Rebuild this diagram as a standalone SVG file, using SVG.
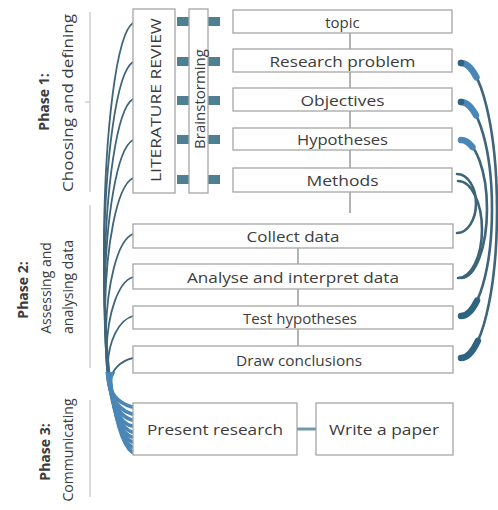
<svg xmlns="http://www.w3.org/2000/svg" width="498" height="510" viewBox="0 0 498 510">
<style>
.box{fill:#fff;stroke:#a6a6a6;stroke-width:1.3}
.t{font-family:"Open Sans","Liberation Sans",sans-serif;font-size:15px;fill:#3c3c3c;text-anchor:middle;dominant-baseline:central}
.ph{font-family:"Open Sans","Liberation Sans",sans-serif;font-size:14px;fill:#3c3c3c;text-anchor:middle;dominant-baseline:central}
.phb{font-weight:bold}
.br{stroke:#c4c4c4;stroke-width:1.2;fill:none}
.lnk{stroke:#8a8a8a;stroke-width:1.3;fill:none}
.sq{fill:#4f7f92}
.lc{fill:none;stroke:#3e6579;stroke-width:1.8;stroke-linecap:round}
.lcb{fill:none;stroke:#4a87b6;stroke-width:3.6;stroke-linecap:round}
.rc{fill:none;stroke:#3e6579;stroke-width:2.6;stroke-linecap:round}
.rcb{fill:none;stroke:#4a87b6;stroke-width:6.5;stroke-linecap:round}
.rcd{fill:none;stroke:#2f6480;stroke-width:6.5;stroke-linecap:round}
</style>
<defs>
<clipPath id="bot"><rect x="80" y="372" width="60" height="100"/></clipPath>
</defs>

<g id="phase-labels">
<line class="br" x1="90" y1="12" x2="90" y2="192"/>
<line class="br" x1="85" y1="102" x2="90" y2="102"/>
<line class="br" x1="90" y1="205" x2="90" y2="368"/>
<line class="br" x1="90" y1="400" x2="90" y2="497"/>
<text class="ph phb" transform="translate(43,102) rotate(-90)">Phase 1:</text>
<text class="ph" transform="translate(67,103) rotate(-90)" font-size="15.5" textLength="178" lengthAdjust="spacingAndGlyphs">Choosing and defining</text>
<text class="ph phb" transform="translate(22,290) rotate(-90)">Phase 2:</text>
<text class="ph" transform="translate(45,288) rotate(-90)" font-size="14.5">Assessing and</text>
<text class="ph" transform="translate(67,287) rotate(-90)" font-size="14.5">analysing data</text>
<text class="ph phb" transform="translate(44,452) rotate(-90)">Phase 3:</text>
<text class="ph" transform="translate(67,450) rotate(-90)" font-size="14.5">Communicating</text>
</g>

<g id="connectors">
<line class="lnk" x1="350" y1="33" x2="350" y2="49"/>
<line class="lnk" x1="350" y1="72" x2="350" y2="88"/>
<line class="lnk" x1="350" y1="111" x2="350" y2="128"/>
<line class="lnk" x1="350" y1="150" x2="350" y2="168"/>
<line class="lnk" x1="350" y1="192" x2="350" y2="213"/>
<line class="lnk" x1="298" y1="248" x2="298" y2="264"/>
<line class="lnk" x1="298" y1="289" x2="298" y2="306"/>
<line class="lnk" x1="298" y1="329" x2="298" y2="346"/>
<line x1="297" y1="429" x2="316" y2="429" stroke="#6f98a8" stroke-width="3"/>
<g class="sq">
<rect x="177" y="17" width="12" height="9"/><rect x="208" y="17" width="12" height="9"/>
<rect x="177" y="57" width="12" height="9"/><rect x="208" y="57" width="12" height="9"/>
<rect x="177" y="96" width="12" height="9"/><rect x="208" y="96" width="12" height="9"/>
<rect x="177" y="135" width="12" height="9"/><rect x="208" y="135" width="12" height="9"/>
<rect x="177" y="175" width="12" height="9"/><rect x="208" y="175" width="12" height="9"/>
</g>
<g id="left-curves">
<path class="lc" d="M133 23 C99 45 90 420 132 452"/>
<path class="lc" d="M133 62 C99 82 90 422 132 447"/>
<path class="lc" d="M133 99 C100 118 91 424 132 442"/>
<path class="lc" d="M133 140 C100 157 91 426 132 437"/>
<path class="lc" d="M133 178 C100 194 92 420 132 432"/>
<path class="lc" d="M133 234 C101 246 93 418 132 426"/>
<path class="lc" d="M133 277 C102 287 94 410 132 420"/>
<path class="lc" d="M133 316 C103 324 96 405 132 414"/>
<path class="lc" d="M133 358 C106 364 100 398 132 407"/>
<g clip-path="url(#bot)">
<path class="lcb" d="M133 23 C99 45 90 420 132 452"/>
<path class="lcb" d="M133 62 C99 82 90 422 132 447"/>
<path class="lcb" d="M133 99 C100 118 91 424 132 442"/>
<path class="lcb" d="M133 140 C100 157 91 426 132 437"/>
<path class="lcb" d="M133 178 C100 194 92 420 132 432"/>
<path class="lcb" d="M133 234 C101 246 93 418 132 426"/>
<path class="lcb" d="M133 277 C102 287 94 410 132 420"/>
<path class="lcb" d="M133 316 C103 324 96 405 132 414"/>
<path class="lcb" d="M133 358 C106 364 100 398 132 407"/>
</g>
</g>
<g id="right-arcs">
<path class="rc" d="M461 63 A36 147.5 0 0 1 461 358"/>
<path class="rc" d="M461 102 A31 107 0 0 1 461 316"/>
<path class="rc" d="M461 140 A26 69 0 0 1 461 278" stroke-width="2.2"/>
<path class="rc" d="M458 181 A24 48.5 0 0 1 458 278" stroke-width="1.7"/>
<path class="rc" d="M457 174 A19 29.5 0 0 1 457 233" stroke-width="1.5"/>
<path class="rcb" pathLength="100" stroke-dasharray="7 200" d="M461 63 A36 147.5 0 0 1 461 358"/>
<path class="rcb" pathLength="100" stroke-dasharray="9 200" d="M461 102 A31 107 0 0 1 461 316"/>
<path class="rcb" pathLength="100" stroke-dasharray="9 200" stroke-width="4.5" d="M461 140 A26 69 0 0 1 461 278"/>
<path class="rcd" pathLength="100" stroke-dasharray="0 92 8 10" d="M461 63 A36 147.5 0 0 1 461 358"/>
<path class="rcd" pathLength="100" stroke-dasharray="0 90 10 10" stroke-width="5.5" d="M461 102 A31 107 0 0 1 461 316"/>
</g>
</g>

<g id="literature-review">
<rect class="box" x="133" y="9" width="42" height="184"/>
<text class="t" transform="translate(155,100) rotate(-90)" textLength="164" lengthAdjust="spacingAndGlyphs" font-size="15">LITERATURE REVIEW</text>
</g>
<g id="brainstorming">
<rect class="box" x="189" y="9" width="19" height="184"/>
<text class="t" transform="translate(199,99) rotate(-90)" font-size="13.5">Brainstorming</text>
</g>

<g id="topic"><rect class="box" x="233" y="10" width="219" height="23"/><text class="t" x="342.5" y="21.5">topic</text></g>
<g id="research-problem"><rect class="box" x="233" y="49" width="219" height="23"/><text class="t" x="342.5" y="60.5" textLength="146" lengthAdjust="spacingAndGlyphs">Research problem</text></g>
<g id="objectives"><rect class="box" x="233" y="88" width="219" height="23"/><text class="t" x="342.5" y="99.5" textLength="84" lengthAdjust="spacingAndGlyphs">Objectives</text></g>
<g id="hypotheses"><rect class="box" x="233" y="128" width="219" height="22"/><text class="t" x="342.5" y="139" textLength="91" lengthAdjust="spacingAndGlyphs">Hypotheses</text></g>
<g id="methods"><rect class="box" x="233" y="168" width="219" height="24"/><text class="t" x="342.5" y="180" textLength="72" lengthAdjust="spacingAndGlyphs">Methods</text></g>

<g id="collect-data"><rect class="box" x="133" y="224" width="320" height="24"/><text class="t" x="293" y="236" textLength="93" lengthAdjust="spacingAndGlyphs">Collect data</text></g>
<g id="analyse"><rect class="box" x="133" y="264" width="320" height="25"/><text class="t" x="293" y="276.5" textLength="212" lengthAdjust="spacingAndGlyphs">Analyse and interpret data</text></g>
<g id="test-hypotheses"><rect class="box" x="133" y="306" width="320" height="23"/><text class="t" x="300" y="317.5" textLength="114" lengthAdjust="spacingAndGlyphs">Test hypotheses</text></g>
<g id="draw-conclusions"><rect class="box" x="133" y="346" width="320" height="27"/><text class="t" x="299" y="359.5" textLength="126" lengthAdjust="spacingAndGlyphs">Draw conclusions</text></g>

<g id="present-research"><rect class="box" x="133" y="403" width="164" height="52"/><text class="t" x="215" y="429" textLength="136" lengthAdjust="spacingAndGlyphs">Present research</text></g>
<g id="write-paper"><rect class="box" x="316" y="403" width="137" height="52"/><text class="t" x="384" y="429" textLength="110" lengthAdjust="spacingAndGlyphs">Write a paper</text></g>
</svg>
